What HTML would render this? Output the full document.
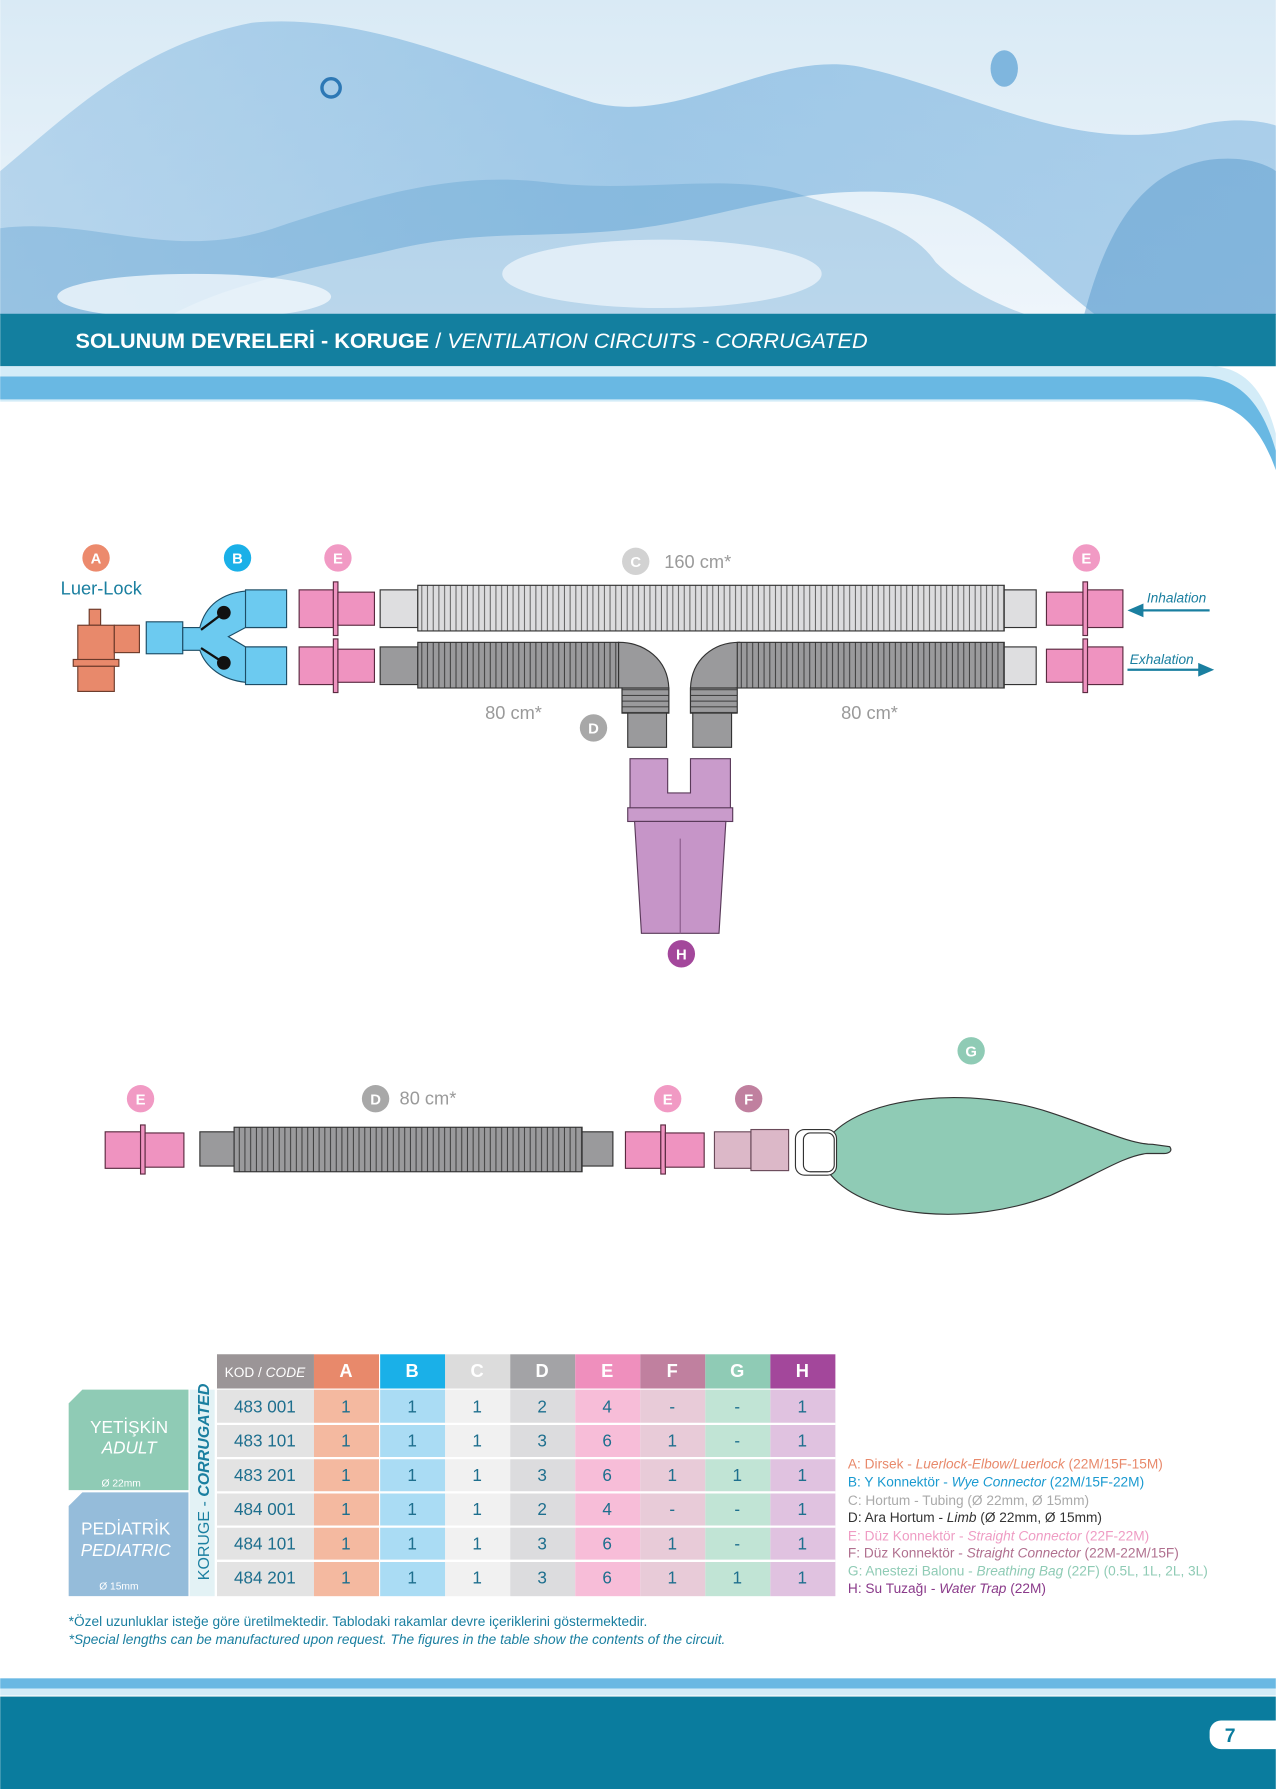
<!DOCTYPE html>
<html><head><meta charset="utf-8"><style>
html,body{margin:0;padding:0;background:#fff}
svg{display:block}
text{font-family:"Liberation Sans",sans-serif}
</style></head><body>
<svg width="1276" height="1789" viewBox="0 0 1118 1568" xmlns="http://www.w3.org/2000/svg">
<defs>
<linearGradient id="sky" x1="0" y1="0" x2="0" y2="1">
<stop offset="0" stop-color="#d9eaf5"/><stop offset="1" stop-color="#eef5fb"/>
</linearGradient>
<linearGradient id="wave" x1="0" y1="0" x2="1" y2="0">
<stop offset="0" stop-color="#9cc6e6"/><stop offset="0.5" stop-color="#7ab3de"/><stop offset="1" stop-color="#8cbde3"/>
</linearGradient>
<pattern id="corL" x="0" y="0" width="5" height="10" patternUnits="userSpaceOnUse"><rect width="5" height="10" fill="#dcdcde"/><line x1="4.5" y1="0" x2="4.5" y2="10" stroke="#555" stroke-width="0.8"/></pattern>
<pattern id="corD" x="0" y="0" width="5" height="10" patternUnits="userSpaceOnUse"><rect width="5" height="10" fill="#9a9a9c"/><line x1="4.5" y1="0" x2="4.5" y2="10" stroke="#333" stroke-width="0.8"/></pattern>
<pattern id="corDH" x="0" y="0" width="10" height="5" patternUnits="userSpaceOnUse"><rect width="10" height="5" fill="#9a9a9c"/><line x1="0" y1="4.5" x2="10" y2="4.5" stroke="#333" stroke-width="0.8"/></pattern>
</defs>

<!-- header image -->
<rect x="0" y="0" width="1118" height="276" fill="url(#sky)"/>
<path d="M0,150 C60,100 120,40 220,20 C320,10 420,60 520,90 C600,110 680,40 760,60 C850,80 950,140 1050,110 C1090,100 1118,110 1118,110 L1118,276 L960,276 C900,230 860,180 800,170 C700,160 640,190 560,200 C480,210 420,200 340,220 C250,240 200,250 150,276 L0,276 Z" fill="url(#wave)" opacity="0.65"/>
<path d="M0,200 C80,190 150,230 240,200 C330,170 400,150 480,160 C560,170 640,150 700,170 C760,190 800,200 820,230 C850,260 900,276 900,276 L0,276 Z" fill="#5a9dcf" opacity="0.35"/>
<path d="M950,276 C970,200 1000,150 1060,140 C1100,135 1118,150 1118,150 L1118,276 Z" fill="#4f95c9" opacity="0.45"/>
<ellipse cx="170" cy="260" rx="120" ry="20" fill="#f1f7fc" opacity="0.8"/>
<ellipse cx="580" cy="240" rx="140" ry="30" fill="#f1f7fc" opacity="0.7"/>
<circle cx="290" cy="77" r="8" fill="none" stroke="#2d78b5" stroke-width="3"/>
<ellipse cx="880" cy="60" rx="12" ry="16" fill="#7fb6de"/>

<!-- title band -->
<rect x="0" y="275" width="1118" height="46" fill="#137f9f"/>
<text x="66" y="305" font-size="19" fill="#fff" font-weight="bold">SOLUNUM DEVRELERİ - KORUGE <tspan font-weight="normal"> / </tspan><tspan font-weight="normal" font-style="italic">VENTILATION CIRCUITS - CORRUGATED</tspan></text>
<path d="M0,321 L1060,321 C1095,321 1110,350 1118,380 L1118,410 C1105,370 1090,352 1050,352 L0,352 Z" fill="#d3ecf8"/>
<path d="M0,330 L1050,330 C1090,330 1108,360 1118,395 L1118,412 C1105,375 1085,350 1040,350 L0,350 Z" fill="#69b8e3"/>

<!-- labels top diagram -->
<g font-size="13" font-weight="bold" fill="#fff" text-anchor="middle">
<circle cx="84" cy="489" r="12" fill="#ec8a6d"/><text x="84" y="494">A</text>
<circle cx="208" cy="489" r="12" fill="#1ab0e8"/><text x="208" y="494">B</text>
<circle cx="296" cy="489" r="12" fill="#f19ac4"/><text x="296" y="494">E</text>
<circle cx="557" cy="492" r="12" fill="#d2d2d2"/><text x="557" y="497">C</text>
<circle cx="952" cy="489" r="12" fill="#f19ac4"/><text x="952" y="494">E</text>
<circle cx="520" cy="638" r="12" fill="#a8a8a8"/><text x="520" y="643">D</text>
<circle cx="597" cy="836" r="12" fill="#a3479b"/><text x="597" y="841">H</text>
<circle cx="123" cy="963" r="12" fill="#f19ac4"/><text x="123" y="968">E</text>
<circle cx="329" cy="963" r="12" fill="#a8a8a8"/><text x="329" y="968">D</text>
<circle cx="585" cy="963" r="12" fill="#f19ac4"/><text x="585" y="968">E</text>
<circle cx="656" cy="963" r="12" fill="#c0809f"/><text x="656" y="968">F</text>
<circle cx="851" cy="921" r="12" fill="#8fcbb5"/><text x="851" y="926">G</text>
</g>
<text x="53" y="521" font-size="16" fill="#1a7fa0">Luer-Lock</text>
<g font-size="16" fill="#9a9a9a">
<text x="582" y="498">160 cm*</text>
<text x="425" y="630">80 cm*</text>
<text x="737" y="630">80 cm*</text>
<text x="350" y="968">80 cm*</text>
</g>

<!-- A elbow -->
<g stroke="#6b3a2a" stroke-width="1" fill="#e8896b">
<rect x="78" y="534" width="10" height="14"/>
<rect x="68" y="548" width="32" height="34"/>
<rect x="100" y="548" width="22" height="24"/>
<rect x="64" y="578" width="40" height="6"/>
<rect x="68" y="584" width="32" height="22"/>
</g>
<!-- B wye -->
<g stroke="#1d4d66" stroke-width="1" fill="#6ccaf0">
<rect x="128" y="545" width="32" height="28"/>
<path d="M160,550 L175,550 C180,530 195,520 215,518 L250,518 L250,550 L215,550 L200,558 L215,567 L250,567 L250,598 L215,598 C195,596 180,585 175,570 L160,570 Z"/>
<rect x="215" y="517" width="36" height="33"/><rect x="215" y="567" width="36" height="33"/>
</g>
<circle cx="196" cy="537" r="6" fill="#111"/><circle cx="196" cy="581" r="6" fill="#111"/>
<line x1="176" y1="552" x2="196" y2="537" stroke="#111" stroke-width="2"/><line x1="176" y1="568" x2="196" y2="581" stroke="#111" stroke-width="2"/>

<!-- E connectors top -->
<g stroke="#5a2a40" stroke-width="1" fill="#ef93c0">
<rect x="262" y="517" width="30" height="33"/><rect x="292" y="510" width="4" height="47"/><rect x="296" y="519" width="32" height="29"/>
<rect x="262" y="567" width="30" height="33"/><rect x="292" y="560" width="4" height="47"/><rect x="296" y="569" width="32" height="29"/>
<rect x="917" y="519" width="32" height="29"/><rect x="949" y="510" width="4" height="47"/><rect x="953" y="517" width="31" height="33"/>
<rect x="917" y="569" width="32" height="29"/><rect x="949" y="560" width="4" height="47"/><rect x="953" y="567" width="31" height="33"/>
</g>

<!-- C tube -->
<rect x="333" y="517" width="33" height="33" fill="#dedee0" stroke="#333"/>
<rect x="366" y="513" width="514" height="40" fill="url(#corL)" stroke="#333"/>
<rect x="880" y="517" width="28" height="33" fill="#dedee0" stroke="#333"/>
<!-- D tubes -->
<rect x="333" y="567" width="33" height="33" fill="#9a9a9c" stroke="#333"/>
<rect x="366" y="563" width="176" height="40" fill="url(#corD)" stroke="#333"/>
<path d="M542,563 C565,563 585,578 586,603 L586,625 L545,625 L545,603 L542,603 Z" fill="#9a9a9c" stroke="#333"/>
<rect x="545" y="603" width="41" height="22" fill="url(#corDH)" stroke="#333"/>
<rect x="550" y="625" width="34" height="30" fill="#9a9a9c" stroke="#333"/>
<path d="M648,563 C625,563 606,578 605,603 L605,625 L645,625 L645,603 L648,603 Z" fill="#9a9a9c" stroke="#333"/>
<rect x="605" y="603" width="41" height="22" fill="url(#corDH)" stroke="#333"/>
<rect x="607" y="625" width="34" height="30" fill="#9a9a9c" stroke="#333"/>
<rect x="646" y="563" width="234" height="40" fill="url(#corD)" stroke="#333"/>
<rect x="880" y="567" width="28" height="33" fill="#dedee0" stroke="#333"/>

<!-- H water trap -->
<g stroke="#5a3a5a" stroke-width="1" fill="#c99bcb">
<path d="M552,665 L585,665 L585,695 L605,695 L605,665 L640,665 L640,710 L552,710 Z"/>
<rect x="550" y="708" width="92" height="12"/>
<path d="M556,720 L636,720 L630,818 L562,818 Z" fill="#c695c8"/>
</g>
<line x1="596" y1="735" x2="596" y2="818" stroke="#8a5a8a"/>

<!-- arrows -->
<g stroke="#1a7fa0" stroke-width="2" fill="#1a7fa0">
<line x1="998" y1="535" x2="1060" y2="535"/><path d="M988,535 L1002,529 L1002,541 Z" stroke="none"/>
<line x1="988" y1="587" x2="1052" y2="587"/><path d="M1064,587 L1050,581 L1050,593 Z" stroke="none"/>
</g>
<text x="1005" y="528" font-size="12" font-style="italic" fill="#1a7fa0">Inhalation</text>
<text x="990" y="582" font-size="12" font-style="italic" fill="#1a7fa0">Exhalation</text>

<!-- second diagram -->
<g stroke="#5a2a40" stroke-width="1" fill="#ef93c0">
<rect x="92" y="992" width="31" height="32"/><rect x="123" y="986" width="4" height="43"/><rect x="127" y="993" width="34" height="30"/>
<rect x="548" y="992" width="31" height="32"/><rect x="579" y="986" width="4" height="43"/><rect x="583" y="993" width="34" height="30"/>
</g>
<rect x="175" y="992" width="30" height="30" fill="#9a9a9c" stroke="#333"/>
<rect x="205" y="988" width="305" height="39" fill="url(#corD)" stroke="#333"/>
<rect x="510" y="992" width="27" height="30" fill="#9a9a9c" stroke="#333"/>
<g stroke="#6a4a5a" fill="#dcb8c8"><rect x="626" y="992" width="32" height="32"/><rect x="658" y="990" width="33" height="36"/></g>
<path d="M728,995 C760,960 850,952 920,975 C960,988 990,1003 1010,1003 L1025,1005 C1028,1009 1024,1011 1020,1011 L1005,1011 C985,1013 960,1030 920,1048 C850,1075 760,1068 728,1030 Z" fill="#8fcbb5" stroke="#333"/>
<rect x="697" y="990" width="36" height="40" rx="8" fill="#fff" stroke="#333"/>
<rect x="704" y="993" width="27" height="34" rx="6" fill="#fff" stroke="#333"/>

<!-- table -->
<g font-size="16" text-anchor="middle">
<path d="M190,1187 L195,1187 L275,1187 L275,1217 L190,1217 Z" fill="#9b9597"/>
<text x="232" y="1207" font-size="12" fill="#fff">KOD / <tspan font-style="italic">CODE</tspan></text>
<rect x="275" y="1187" width="57" height="30" fill="#e8896b"/><text x="303" y="1207" fill="#fff" font-weight="bold">A</text>
<rect x="333" y="1187" width="57" height="30" fill="#1ab0e8"/><text x="361" y="1207" fill="#fff" font-weight="bold">B</text>
<rect x="390" y="1187" width="57" height="30" fill="#dcdcdc"/><text x="418" y="1207" fill="#fff" font-weight="bold">C</text>
<rect x="447" y="1187" width="57" height="30" fill="#a3a3a6"/><text x="475" y="1207" fill="#fff" font-weight="bold">D</text>
<rect x="504" y="1187" width="57" height="30" fill="#ef8fbd"/><text x="532" y="1207" fill="#fff" font-weight="bold">E</text>
<rect x="561" y="1187" width="57" height="30" fill="#c0809f"/><text x="589" y="1207" fill="#fff" font-weight="bold">F</text>
<rect x="618" y="1187" width="57" height="30" fill="#8fcbb5"/><text x="646" y="1207" fill="#fff" font-weight="bold">G</text>
<rect x="675" y="1187" width="57" height="30" fill="#a3479b"/><text x="703" y="1207" fill="#fff" font-weight="bold">H</text>
</g>
<rect x="190" y="1218" width="85" height="181" fill="#e3e3e3"/>
<rect x="275" y="1218" width="57" height="181" fill="#f4b9a0"/>
<rect x="333" y="1218" width="57" height="181" fill="#aadcf4"/>
<rect x="390" y="1218" width="57" height="181" fill="#f1f1f1"/>
<rect x="447" y="1218" width="57" height="181" fill="#dcdcde"/>
<rect x="504" y="1218" width="57" height="181" fill="#f7bdd8"/>
<rect x="561" y="1218" width="57" height="181" fill="#e8cbd8"/>
<rect x="618" y="1218" width="57" height="181" fill="#c1e4d5"/>
<rect x="675" y="1218" width="57" height="181" fill="#e0c2e0"/>
<g stroke="#fff" stroke-width="2">
<line x1="190" y1="1248" x2="732" y2="1248"/><line x1="190" y1="1278" x2="732" y2="1278"/><line x1="190" y1="1308" x2="732" y2="1308"/>
<line x1="190" y1="1338" x2="732" y2="1338"/><line x1="190" y1="1368" x2="732" y2="1368"/>
</g>
<path d="M60,1230 L72,1218 L165,1218 L165,1306 L60,1306 Z" fill="#8fcbb5"/>
<path d="M60,1320 L72,1308 L165,1308 L165,1399 L60,1399 Z" fill="#95bcda"/>
<rect x="166" y="1218" width="22" height="181" fill="#e3f2f5"/>
<text transform="translate(183,1385) rotate(-90)" font-size="14" fill="#1a7fa0">KORUGE - <tspan font-style="italic" font-weight="bold">CORRUGATED</tspan></text>
<g fill="#fff" text-anchor="middle">
<text x="113" y="1256" font-size="15">YETİŞKİN</text><text x="113" y="1274" font-size="15" font-style="italic">ADULT</text>
<text x="106" y="1303" font-size="9" text-anchor="middle">Ø 22mm</text>
<text x="110" y="1345" font-size="15">PEDİATRİK</text><text x="110" y="1364" font-size="15" font-style="italic">PEDIATRIC</text>
<text x="104" y="1393" font-size="9">Ø 15mm</text>
</g>
<g font-size="15" fill="#1e6f8e" text-anchor="middle">
<text x="232" y="1238">483 001</text><text x="232" y="1268">483 101</text><text x="232" y="1298">483 201</text>
<text x="232" y="1328">484 001</text><text x="232" y="1358">484 101</text><text x="232" y="1388">484 201</text>
<text x="303" y="1238">1</text><text x="303" y="1268">1</text><text x="303" y="1298">1</text><text x="303" y="1328">1</text><text x="303" y="1358">1</text><text x="303" y="1388">1</text>
<text x="361" y="1238">1</text><text x="361" y="1268">1</text><text x="361" y="1298">1</text><text x="361" y="1328">1</text><text x="361" y="1358">1</text><text x="361" y="1388">1</text>
<text x="418" y="1238">1</text><text x="418" y="1268">1</text><text x="418" y="1298">1</text><text x="418" y="1328">1</text><text x="418" y="1358">1</text><text x="418" y="1388">1</text>
<text x="475" y="1238">2</text><text x="475" y="1268">3</text><text x="475" y="1298">3</text><text x="475" y="1328">2</text><text x="475" y="1358">3</text><text x="475" y="1388">3</text>
<text x="532" y="1238">4</text><text x="532" y="1268">6</text><text x="532" y="1298">6</text><text x="532" y="1328">4</text><text x="532" y="1358">6</text><text x="532" y="1388">6</text>
<text x="589" y="1238">-</text><text x="589" y="1268">1</text><text x="589" y="1298">1</text><text x="589" y="1328">-</text><text x="589" y="1358">1</text><text x="589" y="1388">1</text>
<text x="646" y="1238">-</text><text x="646" y="1268">-</text><text x="646" y="1298">1</text><text x="646" y="1328">-</text><text x="646" y="1358">-</text><text x="646" y="1388">1</text>
<text x="703" y="1238">1</text><text x="703" y="1268">1</text><text x="703" y="1298">1</text><text x="703" y="1328">1</text><text x="703" y="1358">1</text><text x="703" y="1388">1</text>
</g>
<g font-size="12">
<text x="743" y="1287" fill="#e8896b">A: Dirsek - <tspan font-style="italic">Luerlock-Elbow/Luerlock</tspan> (22M/15F-15M)</text>
<text x="743" y="1303" fill="#1a9ad0">B: Y Konnektör - <tspan font-style="italic">Wye Connector</tspan> (22M/15F-22M)</text>
<text x="743" y="1319" fill="#aaa">C: Hortum - Tubing  (Ø 22mm, Ø 15mm)</text>
<text x="743" y="1334" fill="#333">D: Ara Hortum - <tspan font-style="italic">Limb</tspan> (Ø 22mm, Ø 15mm)</text>
<text x="743" y="1350" fill="#ef9cc4">E: Düz Konnektör - <tspan font-style="italic">Straight Connector</tspan> (22F-22M)</text>
<text x="743" y="1365" fill="#b0708f">F: Düz Konnektör - <tspan font-style="italic">Straight Connector</tspan> (22M-22M/15F)</text>
<text x="743" y="1381" fill="#8fcbb5">G: Anestezi Balonu - <tspan font-style="italic">Breathing Bag</tspan> (22F) (0.5L, 1L, 2L, 3L)</text>
<text x="743" y="1396" fill="#8a3a8a">H: Su Tuzağı - <tspan font-style="italic">Water Trap</tspan> (22M)</text>
</g>
<text x="60" y="1425" font-size="12" fill="#1a7fa0">*Özel uzunluklar isteğe göre üretilmektedir. Tablodaki rakamlar devre içeriklerini göstermektedir.</text>
<text x="60" y="1441" font-size="12" fill="#1a7fa0" font-style="italic">*Special lengths can be manufactured upon request. The figures in the table show the contents of the circuit.</text>

<!-- footer -->
<rect x="0" y="1471" width="1118" height="9" fill="#69b8e3"/>
<rect x="0" y="1480" width="1118" height="6" fill="#d3ecf8"/>
<rect x="0" y="1487" width="1118" height="81" fill="#0a7c9e"/>
<rect x="1060" y="1508" width="70" height="25" rx="10" fill="#fff"/>
<text x="1078" y="1527" font-size="17" font-weight="bold" fill="#0a7c9e" text-anchor="middle">7</text>
</svg>
</body></html>
